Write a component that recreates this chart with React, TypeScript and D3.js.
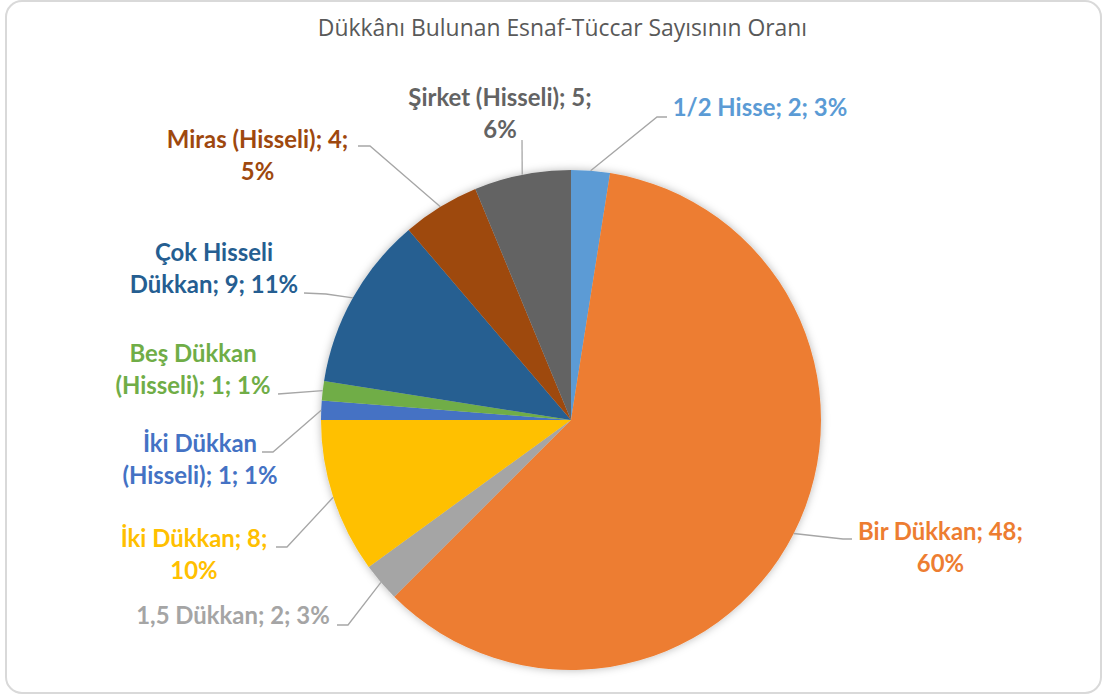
import React from "react";
import * as d3 from "d3";

// ---- data ----
const title = "Dükkânı Bulunan Esnaf-Tüccar Sayısının Oranı";
const categories = [
  "1/2 Hisse",
  "Bir Dükkan",
  "1,5 Dükkan",
  "İki Dükkan",
  "İki Dükkan (Hisseli)",
  "Beş Dükkan (Hisseli)",
  "Çok Hisseli Dükkan",
  "Miras (Hisseli)",
  "Şirket (Hisseli)",
];
const values = [2, 48, 2, 8, 1, 1, 9, 4, 5];
// number of words on the first label line (rest on second)
const firstLineWords = [99, 3, 99, 3, 2, 2, 2, 3, 3];

// ---- styling / layout ----
const colors = ["#5B9BD5", "#ED7D31", "#A5A5A5", "#FFC000", "#4472C4", "#70AD47", "#255E91", "#9E480E", "#636363"];
const W = 1103;
const H = 697;
const cx = 571;
const cy = 420;
const R = 250;
const lineH = 32;
// label centre x, first baseline y, leader bend points (from pie outwards)
const labelLayout = [
  { x: 760, y: 116, pts: [[657, 117], [667, 117]] },
  { x: 940.5, y: 540, pts: [[843, 539], [852, 539]] },
  { x: 233, y: 624, pts: [[348, 625], [337, 625]] },
  { x: 194, y: 547, pts: [[287, 547], [276, 547]] },
  { x: 200, y: 452, pts: [[273, 452], [262, 452]] },
  { x: 193, y: 362, pts: [[278, 394]] },
  { x: 214, y: 261, pts: [[326, 294], [304, 293]] },
  { x: 257.5, y: 148, pts: [[370, 146], [358, 146]] },
  { x: 500, y: 106, pts: [[522, 140]] },
];

export default function App() {
  const total = d3.sum(values);
  const pie = d3
    .pie<number>()
    .sort(null)
    .value((d) => d)
    .startAngle(0)
    .endAngle(2 * Math.PI);
  const arcs = pie(values);
  const arc = d3.arc<d3.PieArcDatum<number>>().innerRadius(0).outerRadius(R);
  const line = d3.line();

  return (
    <svg width={W} height={H} style={{ position: "absolute", left: 0, top: 0, background: "#fff" }}>
      <defs>
        <filter id="pieShadow" x="-20%" y="-20%" width="140%" height="140%">
          <feDropShadow dx="0" dy="0" stdDeviation="4" floodColor="#000" floodOpacity="0.28" />
        </filter>
      </defs>
      <rect x={6} y={1} width={1095} height={692} rx={16} ry={16} fill="#fff" stroke="#D9D9D9" strokeWidth={2} />
      <text
        x={562.5}
        y={36}
        textAnchor="middle"
        fontFamily="'Open Sans', sans-serif"
        fontSize={22.9}
        fill="#595959"
      >
        {title}
      </text>
      <g transform={`translate(${cx},${cy})`} filter="url(#pieShadow)">
        {arcs.map((a, i) => (
          <path key={i} d={arc(a) || ""} fill={colors[i]} />
        ))}
      </g>
      {arcs.map((a, i) => {
        const mid = (a.startAngle + a.endAngle) / 2;
        const start: [number, number] = [cx + R * Math.sin(mid), cy - R * Math.cos(mid)];
        const pts = [start, ...(labelLayout[i].pts as [number, number][])];
        return <path key={"l" + i} d={line(pts) || ""} fill="none" stroke="#A6A6A6" strokeWidth={1.3} />;
      })}
      {arcs.map((a, i) => {
        const pct = Math.round((values[i] / total) * 100);
        const words = `${categories[i]}; ${values[i]}; ${pct}%`.split(" ");
        const l1 = words.slice(0, firstLineWords[i]).join(" ");
        const l2 = words.slice(firstLineWords[i]).join(" ");
        const L = labelLayout[i];
        return (
          <text
            key={"t" + i}
            textAnchor="middle"
            fontFamily="Lato, sans-serif"
            fontWeight="bold"
            fontSize={23.9}
            fill={colors[i]}
          >
            <tspan x={L.x} y={L.y}>{l1}</tspan>
            {l2 && <tspan x={L.x} y={L.y + lineH}>{l2}</tspan>}
          </text>
        );
      })}
    </svg>
  );
}
